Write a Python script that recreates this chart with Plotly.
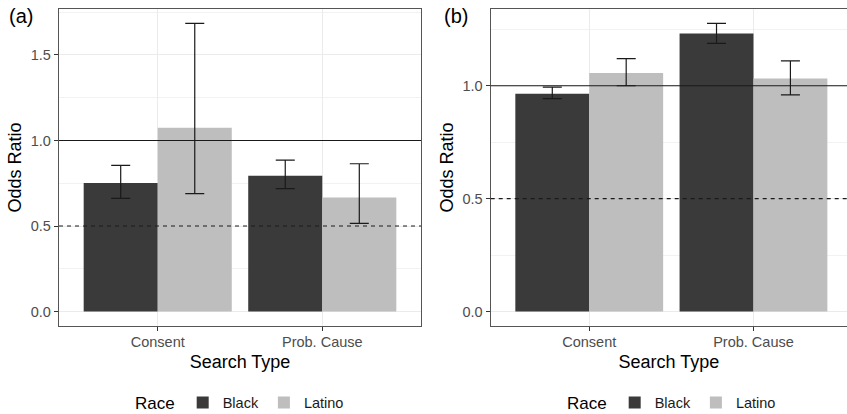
import plotly.graph_objects as go

# ---- data ----
categories = ["Consent", "Prob. Cause"]
races = ["Black", "Latino"]

# panel (a)
a_black = [0.751, 0.794]
a_black_lo = [0.662, 0.718]
a_black_hi = [0.854, 0.885]
a_latino = [1.074, 0.666]
a_latino_lo = [0.689, 0.516]
a_latino_hi = [1.684, 0.864]

# panel (b)
b_black = [0.965, 1.231]
b_black_lo = [0.943, 1.188]
b_black_hi = [0.994, 1.276]
b_latino = [1.056, 1.032]
b_latino_lo = [1.000, 0.960]
b_latino_hi = [1.120, 1.110]

ref_solid = 1.0
ref_dashed = 0.5
y_ticks_a = [0.0, 0.5, 1.0, 1.5]
y_ticks_b = [0.0, 0.5, 1.0]

colors = {"Black": "#3A3A3A", "Latino": "#BEBEBE"}
FONT = "Liberation Sans, Arial, Helvetica, sans-serif"

fig = go.Figure()


def add_bars(vals, lo, hi, race, xa, ya, legend):
    fig.add_trace(go.Bar(
        x=categories, y=vals, name=race,
        marker=dict(color=colors[race], line=dict(width=0)),
        error_y=dict(type="data", symmetric=False,
                     array=[h - v for h, v in zip(hi, vals)],
                     arrayminus=[v - l for v, l in zip(vals, lo)],
                     color="#1A1A1A", thickness=1.2, width=9.5),
        xaxis=xa, yaxis=ya, legend=legend, showlegend=True,
    ))


add_bars(a_black, a_black_lo, a_black_hi, "Black", "x", "y", "legend")
add_bars(a_latino, a_latino_lo, a_latino_hi, "Latino", "x", "y", "legend")
add_bars(b_black, b_black_lo, b_black_hi, "Black", "x2", "y2", "legend2")
add_bars(b_latino, b_latino_lo, b_latino_hi, "Latino", "x2", "y2", "legend2")


def yrange(*his):
    m = max(max(h) for h in his)
    return [-0.05 * m, 1.05 * m]


W, H = 847, 414
ydom = [1 - 326 / H, 1 - 9 / H]
grid = "#EBEBEB"
border = "#555555"

xcommon = dict(type="category", showgrid=True, gridcolor=grid, gridwidth=1, automargin=False,
               showline=True, linecolor=border, linewidth=1.3, mirror=True,
               ticks="outside", ticklen=4, tickcolor="#333333", ticklabelstandoff=-2,
               tickfont=dict(size=14.5, color="#4D4D4D", family=FONT),
               title=dict(text="Search Type", font=dict(size=18, color="#000000", family=FONT), standoff=6),
               zeroline=False)
ycommon = dict(showgrid=True, gridcolor=grid, gridwidth=1, zeroline=False, automargin=False,
               showline=True, linecolor=border, linewidth=1.3,
               ticks="outside", ticklen=4, tickcolor="#333333", tickformat=".1f",
               tickfont=dict(size=14.5, color="#4D4D4D", family=FONT),
               title=dict(text="Odds Ratio", font=dict(size=18, color="#000000", family=FONT), standoff=4),
               minor=dict(dtick=0.25, tick0=0, showgrid=True, gridcolor="#F2F2F2", gridwidth=0.6, ticks=""))

legend_common = dict(orientation="h", y=1 - 403 / H, yanchor="middle",
                     title=dict(text="Race", side="left", font=dict(size=17, color="#000000")),
                     font=dict(size=14.5, color="#1A1A1A"), bgcolor="rgba(0,0,0,0)", itemwidth=30,
                     tracegroupgap=0)

fig.update_layout(
    width=W, height=H, margin=dict(l=0, r=0, t=0, b=0, autoexpand=False),
    paper_bgcolor="white", plot_bgcolor="white",
    barmode="group", bargap=0.1, bargroupgap=0,
    font=dict(family=FONT),
    xaxis=dict(xcommon, domain=[59 / W, 421 / W], range=[-0.6, 1.6], anchor="y"),
    yaxis=dict(ycommon, domain=ydom, range=yrange(a_black_hi, a_latino_hi), tickvals=y_ticks_a,
               mirror=True, anchor="x"),
    xaxis2=dict(xcommon, domain=[490.7 / W, 1.0], range=[-0.6, 1.5695], anchor="y2"),
    yaxis2=dict(ycommon, domain=ydom, range=yrange(b_black_hi, b_latino_hi), tickvals=y_ticks_b,
                mirror=False, anchor="x2"),
    legend=dict(legend_common, x=241 / W, xanchor="center"),
    legend2=dict(legend_common, x=673 / W, xanchor="center"),
)

for xr, yr in (("x", "y"), ("x2", "y2")):
    fig.add_shape(type="line", xref=f"{xr} domain", yref=yr, x0=0, x1=1, y0=ref_solid, y1=ref_solid,
                  line=dict(color="#1A1A1A", width=1.1), layer="above")
    fig.add_shape(type="line", xref=f"{xr} domain", yref=yr, x0=0, x1=1, y0=ref_dashed, y1=ref_dashed,
                  line=dict(color="#1A1A1A", width=1.1, dash="4px,4px"), layer="above")

fig.add_annotation(text="(a)", xref="paper", yref="paper", x=7 / W, y=1 - 16 / H, xanchor="left",
                   yanchor="middle", showarrow=False, font=dict(size=20, color="#000000", family=FONT))
fig.add_annotation(text="(b)", xref="paper", yref="paper", x=442 / W, y=1 - 16 / H, xanchor="left",
                   yanchor="middle", showarrow=False, font=dict(size=20, color="#000000", family=FONT))

fig.write_html("out.html", config={"displayModeBar": False},
               post_script="document.body.style.margin='0';document.body.style.overflow='hidden';")
